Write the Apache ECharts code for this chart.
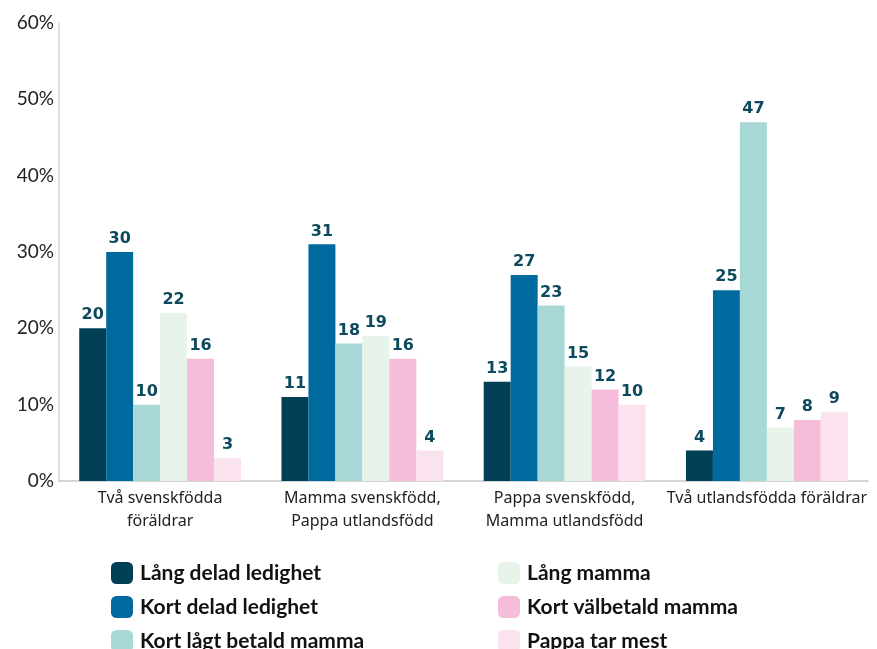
<!DOCTYPE html>
<html>
<head>
<meta charset="utf-8">
<script src="https://cdn.jsdelivr.net/npm/echarts@6/dist/echarts.min.js"></script>
<style>
  html, body { margin: 0; padding: 0; background: #fff; }
  #chart { width: 877px; height: 649px; }
</style>
</head>
<body>
<div id="chart"></div>
<script>
const categories = [
  'Två svenskfödda\nföräldrar',
  'Mamma svenskfödd,\nPappa utlandsfödd',
  'Pappa svenskfödd,\nMamma utlandsfödd',
  'Två utlandsfödda föräldrar'
]
const seriesNames = [
  'Lång delad ledighet',
  'Kort delad ledighet',
  'Kort lågt betald mamma',
  'Lång mamma',
  'Kort välbetald mamma',
  'Pappa tar mest'
]
const langDelad = [20, 11, 13, 4]
const kortDelad = [30, 31, 27, 25]
const kortLagtBetald = [10, 18, 23, 47]
const langMamma = [22, 19, 15, 7]
const kortValbetald = [16, 16, 12, 8]
const pappaTarMest = [3, 4, 10, 9]
const yTicks = [0, 10, 20, 30, 40, 50, 60]

const colors = ['#003f56', '#006a9e', '#a8d8d6', '#e8f3ea', '#f5bdd9', '#fbe2ef']
const values = [langDelad, kortDelad, kortLagtBetald, langMamma, kortValbetald, pappaTarMest]
const font = 'Lato, "Noto Sans", sans-serif'

const chart = echarts.init(document.getElementById('chart'))

// two legend columns, three items each
const legendBase = {
  orient: 'vertical',
  top: 557,
  height: 110,
  itemWidth: 22,
  itemHeight: 22,
  itemGap: 12,
  icon: 'roundRect',
  textStyle: { fontFamily: font, fontSize: 21, fontWeight: 'bold', color: '#111', padding: [0, 0, 0, 2] }
}

chart.setOption({
  animation: false,
  color: colors,
  legend: [
    Object.assign({}, legendBase, { left: 106, data: seriesNames.slice(0, 3) }),
    Object.assign({}, legendBase, { left: 493, data: seriesNames.slice(3) })
  ],
  grid: {
    left: 59,
    right: 9,
    top: 23,
    bottom: 168,
    containLabel: false
  },
  xAxis: {
    type: 'category',
    data: categories,
    axisTick: { show: false },
    axisLine: { show: true, lineStyle: { color: '#c8c8c8', width: 1.5 } },
    axisLabel: {
      color: '#222',
      fontFamily: '"Noto Sans", sans-serif',
      fontSize: 16,
      lineHeight: 23,
      margin: 6,
      interval: 0
    }
  },
  yAxis: {
    type: 'value',
    min: yTicks[0],
    max: yTicks[yTicks.length - 1],
    interval: 10,
    splitLine: { show: false },
    axisTick: { show: false },
    axisLine: { show: true, lineStyle: { color: '#d8d8d8', width: 1.5 } },
    axisLabel: {
      color: '#222',
      fontFamily: font,
      fontSize: 19,
      margin: 5,
      formatter: '{value}%'
    }
  },
  series: seriesNames.map((name, i) => ({
    name: name,
    type: 'bar',
    data: values[i],
    barGap: '0%',
    barCategoryGap: '20%',
    label: {
      show: true,
      position: 'top',
      distance: 5,
      color: '#0d4a5e',
      fontFamily: '"DejaVu Sans", sans-serif',
      fontWeight: 'bold',
      fontSize: 16
    }
  }))
})
</script>
</body>
</html>
